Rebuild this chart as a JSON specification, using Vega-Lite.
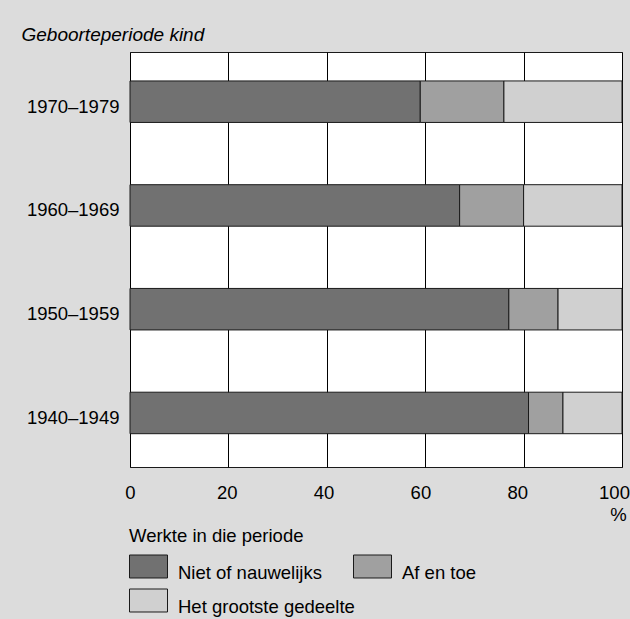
{
  "$schema": "https://vega.github.io/schema/vega-lite/v6.json",
  "width": 492,
  "height": 415,
  "autosize": {"type": "none"},
  "padding": {"left": 130, "top": 52, "right": 8, "bottom": 152},
  "background": "#dcdcdc",
  "config": {
    "font": "Liberation Sans",
    "view": {"fill": "white", "stroke": "#1a1a1a", "strokeWidth": 1}
  },
  "data": {
    "values": [
      {"periode": "1970–1979", "categorie": "Niet of nauwelijks", "waarde": 59, "volgorde": 1},
      {"periode": "1970–1979", "categorie": "Af en toe", "waarde": 17, "volgorde": 2},
      {"periode": "1970–1979", "categorie": "Het grootste gedeelte", "waarde": 24, "volgorde": 3},
      {"periode": "1960–1969", "categorie": "Niet of nauwelijks", "waarde": 67, "volgorde": 1},
      {"periode": "1960–1969", "categorie": "Af en toe", "waarde": 13, "volgorde": 2},
      {"periode": "1960–1969", "categorie": "Het grootste gedeelte", "waarde": 20, "volgorde": 3},
      {"periode": "1950–1959", "categorie": "Niet of nauwelijks", "waarde": 77, "volgorde": 1},
      {"periode": "1950–1959", "categorie": "Af en toe", "waarde": 10, "volgorde": 2},
      {"periode": "1950–1959", "categorie": "Het grootste gedeelte", "waarde": 13, "volgorde": 3},
      {"periode": "1940–1949", "categorie": "Niet of nauwelijks", "waarde": 81, "volgorde": 1},
      {"periode": "1940–1949", "categorie": "Af en toe", "waarde": 7, "volgorde": 2},
      {"periode": "1940–1949", "categorie": "Het grootste gedeelte", "waarde": 12, "volgorde": 3}
    ]
  },
  "mark": {"type": "bar", "stroke": "#1a1a1a", "strokeWidth": 1},
  "encoding": {
    "y": {
      "field": "periode",
      "type": "nominal",
      "sort": ["1970–1979", "1960–1969", "1950–1959", "1940–1949"],
      "scale": {"paddingInner": 0.6, "paddingOuter": 0.3, "align": 0.465},
      "axis": {
        "title": "Geboorteperiode kind",
        "titleAngle": 0,
        "titleAlign": "left",
        "titleBaseline": "alphabetic",
        "titleX": -109,
        "titleY": -12,
        "titleFontStyle": "italic",
        "titleFontWeight": "normal",
        "titleFontSize": 19,
        "titleColor": "#000",
        "labelFontSize": 18.5,
        "labelColor": "#000",
        "labelPadding": 11,
        "labelOffset": 5,
        "ticks": false,
        "domain": false,
        "grid": false
      }
    },
    "x": {
      "field": "waarde",
      "type": "quantitative",
      "stack": "zero",
      "scale": {"domain": [0, 100], "nice": false},
      "axis": {
        "values": [0, 20, 40, 60, 80, 100],
        "format": "d",
        "title": "%",
        "titleX": 488,
        "titleY": 53,
        "titleAlign": "center",
        "titleBaseline": "alphabetic",
        "titleFontWeight": "normal",
        "titleFontSize": 18.5,
        "titleColor": "#000",
        "labelFontSize": 18.5,
        "labelColor": "#000",
        "labelPadding": 16,
        "labelFlush": false,
        "labelOffset": {"expr": "-0.08*datum.value"},
        "ticks": false,
        "domain": false,
        "grid": true,
        "gridColor": "#000",
        "gridOpacity": 1,
        "gridWidth": 1
      }
    },
    "color": {
      "field": "categorie",
      "type": "nominal",
      "scale": {
        "domain": ["Niet of nauwelijks", "Af en toe", "Het grootste gedeelte"],
        "range": ["#717171", "#a0a0a0", "#d0d0d0"]
      },
      "legend": {
        "orient": "none",
        "legendX": -1,
        "legendY": 474.5,
        "direction": "horizontal",
        "columns": 2,
        "gridAlign": "none",
        "title": "Werkte in die periode",
        "titleFontSize": 18.5,
        "titleFontWeight": "normal",
        "titleColor": "#000",
        "titlePadding": -1,
        "titleAnchor": "start",
        "labelFontSize": 18.5,
        "labelColor": "#000",
        "labelOffset": 10,
        "labelLimit": 400,
        "columnPadding": -4,
        "rowPadding": -4,
        "symbolType": "M-1,-0.447H1V0.763H-1Z",
        "symbolSize": 1444,
        "symbolStrokeColor": "#1a1a1a",
        "symbolStrokeWidth": 1,
        "symbolOpacity": 1,
        "padding": 0,
        "labelBaseline": "top"
      }
    },
    "order": {"field": "volgorde", "type": "quantitative"}
  }
}
